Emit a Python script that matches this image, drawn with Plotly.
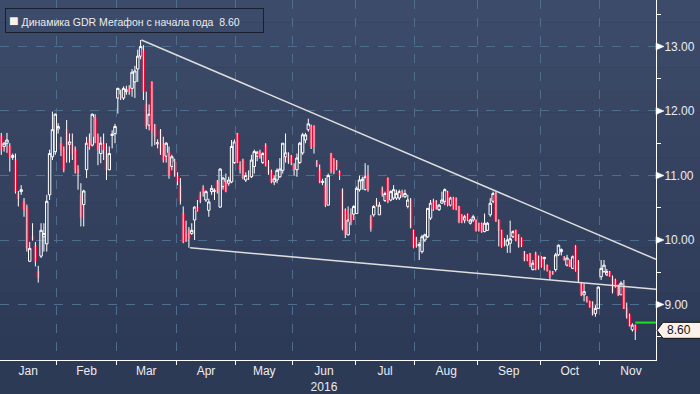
import plotly.graph_objects as go

# ---------------- data ----------------
open_ = [11.61,11.45,11.50,11.46,11.28,11.25,10.72,10.75,10.60,10.51,9.67,10.06,9.91,9.51,9.75,10.05,9.94,10.70,11.29,11.37,
         11.72,11.50,11.40,11.71,11.48,11.50,11.41,11.10,10.71,10.55,11.09,11.55,11.47,11.90,11.61,11.34,11.50,11.45,11.09,11.62,
         11.65,12.20,12.25,12.20,12.30,12.35,12.35,12.45,12.65,12.85,12.95,12.11,11.78,12.45,11.78,11.49,11.70,11.50,11.30,11.35,
         11.14,11.21,11.00,10.85,10.41,10.10,10.16,10.10,10.31,10.51,10.71,10.80,10.62,10.46,10.75,10.75,10.90,10.51,10.83,10.90,
         10.88,10.90,11.20,11.65,11.16,11.25,10.93,11.00,10.98,11.14,11.30,11.37,11.20,11.47,11.21,11.06,10.90,10.93,10.98,11.08,
         11.29,11.34,11.30,11.16,11.09,11.20,11.35,11.55,11.71,11.76,11.76,11.21,11.10,10.89,10.85,10.54,11.34,11.25,11.21,11.06,
         10.78,10.47,10.08,10.41,10.40,10.41,10.78,10.92,10.78,11.01,10.36,10.39,10.61,10.39,10.80,10.61,10.96,10.62,10.65,10.65,
         10.65,10.75,10.67,10.52,10.62,10.15,10.03,9.91,9.82,10.00,10.05,10.34,10.60,10.60,10.47,10.57,10.60,10.75,10.54,10.65,
         10.65,10.52,10.39,10.31,10.40,10.26,10.31,10.31,10.26,10.26,10.13,10.15,10.39,10.60,10.72,10.31,10.15,10.00,9.92,9.95,
         10.05,10.15,10.08,10.03,9.82,9.77,9.79,9.54,9.79,9.74,9.74,9.71,9.61,9.51,9.51,9.54,9.77,9.82,9.74,9.61,
         9.69,9.56,9.90,9.66,9.33,9.15,9.12,9.05,9.04,8.86,8.94,9.43,9.51,9.46,9.51,9.43,9.38,9.30,9.15,9.30,
         8.94,8.84,8.61,8.68]
high = [11.66,11.52,11.66,11.50,11.34,11.34,10.76,10.85,10.65,10.55,9.97,10.26,9.97,9.60,10.26,10.26,10.70,11.40,11.99,11.96,
        11.81,11.60,11.45,11.86,11.65,11.65,11.45,11.16,10.88,10.78,11.60,11.65,11.96,11.95,11.65,11.60,11.65,11.50,11.45,11.70,
        11.80,12.36,12.33,12.38,12.39,12.40,12.65,12.70,12.95,13.10,13.02,12.30,12.10,12.46,11.80,11.56,11.72,11.60,11.52,11.45,
        11.32,11.26,11.05,10.96,10.52,10.30,10.20,10.26,10.52,10.62,10.75,10.85,10.77,10.64,10.85,10.80,10.93,11.11,10.98,11.03,
        10.98,11.55,11.56,11.66,11.22,11.26,11.05,11.08,11.32,11.40,11.38,11.40,11.36,11.50,11.24,11.09,11.00,11.11,11.27,11.50,
        11.65,11.36,11.32,11.19,11.34,11.52,11.66,11.66,11.88,11.79,11.78,11.24,11.17,10.95,10.96,11.03,11.35,11.27,11.24,11.08,
        10.80,10.49,10.52,10.49,10.54,10.83,11.00,10.98,11.19,11.16,10.39,10.54,10.65,10.59,10.83,10.75,10.97,10.77,10.85,10.78,
        10.78,10.78,10.78,10.70,10.65,10.16,10.05,9.97,10.08,10.10,10.49,10.62,10.64,10.62,10.56,10.75,10.80,10.76,10.67,10.67,
        10.66,10.53,10.40,10.39,10.41,10.33,10.39,10.32,10.27,10.27,10.41,10.28,10.65,10.75,10.75,10.32,10.16,10.03,10.08,10.30,
        10.15,10.16,10.09,10.04,9.83,9.78,9.80,9.69,9.82,9.76,9.75,9.74,9.62,9.53,9.52,9.80,9.93,9.87,9.75,9.77,
        9.70,9.76,9.92,9.69,9.35,9.33,9.13,9.06,9.05,8.99,9.28,9.69,9.69,9.55,9.52,9.45,9.40,9.31,9.36,9.38,
        9.03,8.86,8.71,8.69]
low = [11.32,11.37,11.35,11.06,11.24,10.72,10.52,10.70,10.36,9.82,9.66,9.99,9.59,9.34,9.72,9.82,9.82,10.62,11.24,11.32,
       11.65,11.30,11.05,11.20,11.20,11.24,11.03,10.78,10.21,10.21,10.96,11.40,11.45,11.50,11.16,11.19,11.24,10.93,11.08,11.42,
       11.50,11.96,12.17,12.17,12.25,12.25,12.22,12.20,12.45,12.80,12.17,11.72,11.70,11.45,11.47,11.42,11.32,11.20,11.20,10.95,
       11.08,10.98,10.85,10.55,9.95,9.97,9.88,10.08,10.00,10.44,10.57,10.67,10.59,10.36,10.70,10.62,10.72,10.50,10.78,10.74,
       10.84,10.88,11.18,11.19,11.03,10.94,10.90,10.93,10.96,11.03,11.22,11.26,11.18,11.14,11.01,10.88,10.85,10.88,10.96,11.03,
       11.20,11.18,11.16,11.00,10.98,11.18,11.32,11.50,11.68,11.41,11.34,11.13,10.88,10.85,10.51,10.54,11.03,11.02,11.08,10.93,
       10.15,10.03,10.07,10.23,10.31,10.41,10.75,10.78,10.77,10.75,10.13,10.36,10.52,10.39,10.67,10.59,10.57,10.60,10.62,10.62,
       10.62,10.66,10.65,10.49,10.18,9.87,9.88,9.69,9.79,9.97,10.03,10.31,10.45,10.47,10.45,10.57,10.54,10.52,10.52,10.47,
       10.46,10.26,10.26,10.26,10.29,10.24,10.28,10.13,10.13,10.11,10.12,10.14,10.36,10.57,10.28,9.90,9.88,9.90,9.80,9.80,
       10.03,9.98,9.88,9.89,9.67,9.67,9.58,9.53,9.53,9.54,9.57,9.53,9.51,9.38,9.46,9.51,9.75,9.76,9.68,9.59,
       9.58,9.55,9.51,9.35,9.13,9.05,9.03,8.95,8.83,8.81,8.93,9.38,9.49,9.44,9.43,9.17,9.26,9.13,9.15,8.93,
       8.78,8.66,8.58,8.45]
close = [11.40,11.50,11.55,11.28,11.31,10.75,10.64,10.78,10.47,9.87,9.87,10.00,9.67,9.42,10.15,10.10,10.60,11.34,11.71,11.95,
         11.76,11.40,11.09,11.40,11.52,11.34,11.09,11.04,10.35,10.76,11.50,11.45,11.95,11.60,11.40,11.50,11.40,11.09,11.34,11.64,
         11.76,12.35,12.20,12.35,12.33,12.30,12.60,12.62,12.85,13.00,12.30,11.76,11.95,11.70,11.60,11.51,11.35,11.24,11.50,11.00,
         11.29,11.00,10.90,10.60,9.97,10.00,10.03,10.15,10.51,10.46,10.60,10.72,10.75,10.59,10.80,10.77,10.75,11.10,10.96,10.75,
         10.93,11.45,11.52,11.20,11.09,10.96,11.00,10.96,11.24,11.37,11.36,11.29,11.34,11.16,11.03,10.90,10.95,11.08,11.10,11.50,
         11.35,11.21,11.20,11.09,11.27,11.50,11.63,11.63,11.80,11.45,11.45,11.16,10.90,10.91,10.54,11.00,11.06,11.06,11.14,11.00,
         10.18,10.10,10.31,10.28,10.52,10.80,10.93,10.94,10.98,10.78,10.18,10.52,10.53,10.54,10.70,10.72,10.60,10.75,10.78,10.72,
         10.75,10.70,10.72,10.62,10.20,9.90,9.90,9.93,10.05,10.08,10.49,10.57,10.49,10.49,10.54,10.62,10.78,10.54,10.65,10.48,
         10.48,10.28,10.28,10.36,10.31,10.31,10.36,10.15,10.15,10.13,10.26,10.26,10.57,10.72,10.30,10.15,9.90,9.92,10.00,10.02,
         10.13,10.00,9.90,9.91,9.69,9.69,9.61,9.64,9.56,9.56,9.59,9.73,9.53,9.43,9.48,9.77,9.92,9.85,9.69,9.72,
         9.59,9.74,9.53,9.38,9.15,9.20,9.05,8.97,8.84,8.94,9.27,9.56,9.61,9.51,9.44,9.20,9.28,9.15,9.33,8.94,
         8.81,8.67,8.68,8.60]

month_labels = ["Jan", "Feb", "Mar", "Apr", "May", "Jun", "Jul", "Aug", "Sep", "Oct", "Nov"]
month_start = [0, 20, 41, 62, 83, 103, 125, 146, 168, 190, 211, 233]   # trading-day index of 1st day
year_label = "2016"
year_month = "Jun"
y_ticks = [9, 10, 11, 12, 13]
y_minor = [8.5, 9.5, 10.5, 11.5, 12.5, 13.5]
upper_trend_x, upper_trend_y = [49.3, 230.3], [13.10, 9.70]
lower_trend_x, lower_trend_y = [66.4, 230.3], [9.88, 9.235]
green_level = 8.72
last_price = 8.60
legend_text = "Динамика GDR Мегафон с начала года"
x_range = [-0.45, 230.3]
y_range = [8.14, 13.72]

# ---------------- styling ----------------
FONT = "Liberation Sans, Arial, sans-serif"
RED = "#e0123c"
GRID = "#4f6e8e"
TXT = "#ececf0"

idx = list(range(len(close)))
is_down = [c < o for o, c in zip(open_, close)]

# candle highs/lows: down candles keep only their body (wicks drawn white separately)
c_high = [max(o, c) if d else h for o, c, h, d in zip(open_, close, high, is_down)]
c_low = [min(o, c) if d else l for o, c, l, d in zip(open_, close, low, is_down)]

wx, wy = [], []
for i, d in enumerate(is_down):
    if d:
        wx += [i, i, None]
        wy += [low[i], high[i], None]

fig = go.Figure()

# gradient background bands
top = (60, 75, 105)
bot = (45, 58, 87)
n = 16
for k in range(n):
    t = k / (n - 1)
    col = tuple(round(top[j] + (bot[j] - top[j]) * t) for j in range(3))
    fig.add_shape(type="rect", xref="paper", yref="paper",
                  x0=-0.01, x1=1.2, y0=1 - (k + 1) / n, y1=1.01 if k == 0 else 1 - k / n,
                  fillcolor="rgb(%d,%d,%d)" % col, line_width=0, layer="below")

fig.add_trace(go.Scatter(x=wx, y=wy, mode="lines", line=dict(color="white", width=1),
                         hoverinfo="skip", showlegend=False))
fig.add_trace(go.Candlestick(
    x=idx, open=open_, high=c_high, low=c_low, close=close,
    increasing=dict(line=dict(color="white", width=1), fillcolor="rgba(0,0,0,0)"),
    decreasing=dict(line=dict(color=RED, width=1), fillcolor=RED),
    whiskerwidth=0, showlegend=False))

# trend lines
fig.add_trace(go.Scatter(x=upper_trend_x, y=upper_trend_y, mode="lines",
                         line=dict(color="#dedede", width=1.5), showlegend=False, hoverinfo="skip"))
fig.add_trace(go.Scatter(x=lower_trend_x, y=lower_trend_y, mode="lines",
                         line=dict(color="#dedede", width=1.5), showlegend=False, hoverinfo="skip"))

# green level line from last bar to the axis
fig.add_trace(go.Scatter(x=[idx[-1], x_range[1]], y=[green_level, green_level], mode="lines",
                         line=dict(color="#22e01a", width=2), showlegend=False, hoverinfo="skip"))

# triangular major tick markers on the right axis (pixel-sized shapes anchored at tick values)
for v in y_ticks:
    fig.add_shape(type="path", xref="paper", xsizemode="pixel", xanchor=1,
                  yref="y", ysizemode="pixel", yanchor=v,
                  path="M 0,-3.5 L 8,0 L 0,3.5 Z", fillcolor="white", line=dict(color="white", width=0.5))
# last-price label with pointer
fig.add_shape(type="path", xref="paper", xsizemode="pixel", xanchor=1,
              yref="y", ysizemode="pixel", yanchor=last_price,
              path="M 1,0 L 7,-8 L 48,-8 L 48,8 L 7,8 Z", fillcolor="#fdf1ea",
              line=dict(color="#111", width=1))
fig.add_annotation(xref="paper", yref="y", x=1, y=last_price, xanchor="left", yanchor="middle",
                   xshift=9, text="%.2f" % last_price, showarrow=False, align="left",
                   font=dict(family=FONT, size=12, color="#111"))

mid = [(month_start[k] + month_start[k + 1]) / 2 - 0.5 for k in range(len(month_labels))]
ticktext = [m + ("<br>" + year_label if m == year_month else "") for m in month_labels]
bounds = [s - 0.5 for s in month_start[1:len(month_labels)]]

fig.update_xaxes(range=x_range, showgrid=False, zeroline=False, rangeslider_visible=False,
                 automargin=False,
                 tickmode="array", tickvals=mid, ticktext=ticktext, ticks="",
                 tickfont=dict(family=FONT, size=12, color=TXT),
                 showline=True, linecolor="white", linewidth=1,
                 minor=dict(tickmode="array", tickvals=bounds, ticks="outside", ticklen=4,
                            tickcolor="white", tickwidth=1, showgrid=True, gridcolor=GRID,
                            griddash="dash", gridwidth=1))
fig.update_yaxes(range=y_range, side="right", zeroline=False, automargin=False,
                 tickmode="array", tickvals=y_ticks, ticktext=["%.2f" % v for v in y_ticks],
                 ticks="outside", ticklen=5, tickcolor="rgba(0,0,0,0)",
                 tickfont=dict(family=FONT, size=12, color=TXT),
                 showgrid=True, gridcolor=GRID, griddash="dash", gridwidth=1,
                 showline=True, linecolor="white", linewidth=1,
                 minor=dict(tickmode="array", tickvals=y_minor, ticks="outside", ticklen=4,
                            tickcolor="white", tickwidth=1, showgrid=False))

fig.add_annotation(xref="paper", yref="paper", x=0, y=1, xanchor="left", yanchor="top",
                   xshift=5, yshift=-8, showarrow=False, align="left",
                   text="<span style='color:#fdf1ea;font-size:16px'>■</span> " + legend_text
                        + "&nbsp;&nbsp;%.2f&nbsp;&nbsp;&nbsp;&nbsp;&nbsp;&nbsp;&nbsp;" % last_price,
                   font=dict(family=FONT, size=10.5, color=TXT),
                   bgcolor="rgba(0,0,0,0)", bordercolor="#18202f", borderwidth=1, borderpad=3)

fig.update_layout(width=700, height=394, margin=dict(l=0, r=44, t=0, b=34),
                  paper_bgcolor="#2c3a56", plot_bgcolor="rgba(0,0,0,0)",
                  boxgap=0.15, boxgroupgap=0, showlegend=False, dragmode=False)

fig.write_html("out.html", config={"displayModeBar": False},
               post_script="document.body.style.margin='0';document.body.style.background='#2c3a56';"
                           "document.body.style.overflow='hidden';")
